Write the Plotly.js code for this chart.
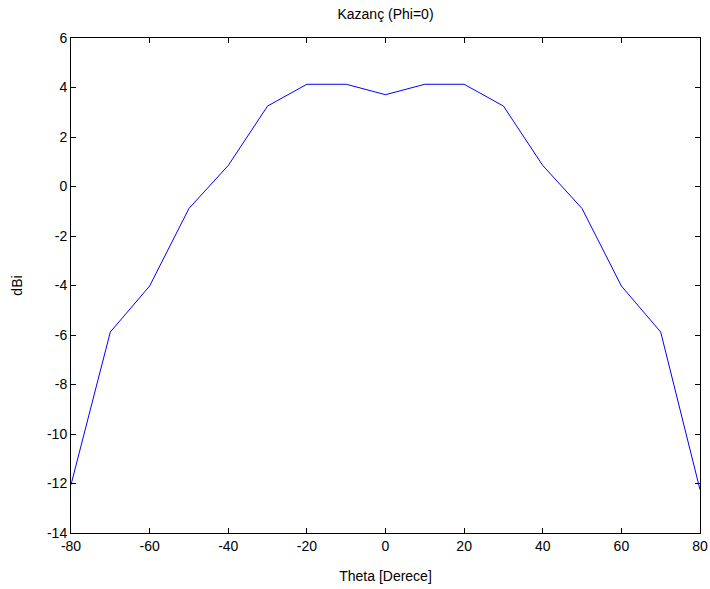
<!DOCTYPE html>
<html>
<head>
<meta charset="utf-8">
<script src="https://cdn.plot.ly/plotly-3.0.1.min.js"></script>
<style>html,body{margin:0;padding:0;background:#fff;}#chart{width:710px;height:589px;}</style>
</head>
<body>
<div id="chart"></div>
<script>
var theta = [-80, -70, -60, -50, -40, -30, -20, -10, 0, 10, 20, 30, 40, 50, 60, 70, 80];
var gainDbi = [-12.05, -5.88, -4.02, -0.89, 0.85, 3.25, 4.13, 4.13, 3.71, 4.13, 4.13, 3.25, 0.85, -0.89, -4.02, -5.88, -12.25];
var xTicks = [-80, -60, -40, -20, 0, 20, 40, 60, 80];
var yTicks = [-14, -12, -10, -8, -6, -4, -2, 0, 2, 4, 6];

var font = {family: 'Liberation Sans, Arial, sans-serif', size: 14, color: '#000'};

var trace = {
  x: theta, y: gainDbi, type: 'scatter', mode: 'lines',
  line: {color: '#0000ff', width: 1}, hoverinfo: 'skip'
};

var axisCommon = {
  showgrid: false, zeroline: false, showline: true, linecolor: '#000', linewidth: 1,
  mirror: 'ticks', ticks: 'inside', ticklen: 5, tickcolor: '#000', tickwidth: 1,
  tickfont: font, automargin: false
};

var layout = {
  width: 710, height: 589,
  paper_bgcolor: '#fff', plot_bgcolor: '#fff',
  margin: {l: 71, r: 10, t: 38, b: 56},
  showlegend: false,
  font: font,
  title: {text: 'Kazanç (Phi=0)', font: font, x: 0.5, xref: 'paper', xanchor: 'center', y: 1 - 14/589, yanchor: 'middle', yref: 'container'},
  xaxis: Object.assign({}, axisCommon, {
    range: [-80, 80], tickmode: 'array', tickvals: xTicks, ticktext: xTicks.map(String),
    title: {text: 'Theta [Derece]', font: font, standoff: 18}
  }),
  yaxis: Object.assign({}, axisCommon, {
    range: [-14, 6], tickmode: 'array', tickvals: yTicks, ticktext: yTicks.map(String),
    title: {text: 'dBi', font: font, standoff: 21}
  })
};

Plotly.newPlot('chart', [trace], layout, {displayModeBar: false, staticPlot: true});
</script>
</body>
</html>
